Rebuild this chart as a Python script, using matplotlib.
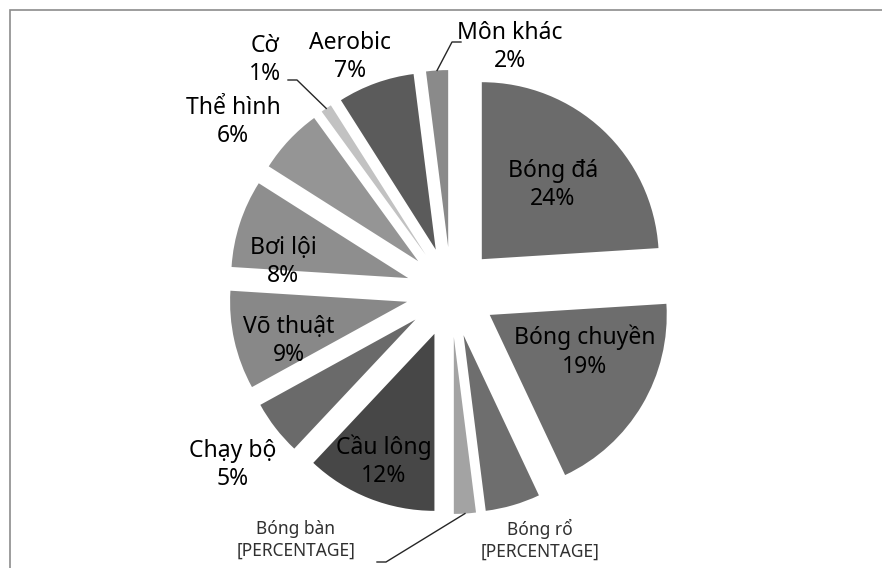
import matplotlib.pyplot as plt
import numpy as np
from matplotlib.patches import Rectangle

# du lieu
mon = ["Bóng đá", "Bóng chuyền", "Bóng rổ", "Bóng bàn", "Cầu lông", "Chạy bộ",
       "Võ thuật", "Bơi lội", "Thể hình", "Cờ", "Aerobic", "Môn khác"]
ty_le = [24, 19, 5, 2, 12, 5, 9, 8, 6, 1, 7, 2]
nhan = ["Bóng đá\n24%", "Bóng chuyền\n19%", "Bóng rổ\n[PERCENTAGE]", "Bóng bàn\n[PERCENTAGE]",
        "Cầu lông\n12%", "Chạy bộ\n5%", "Võ thuật\n9%", "Bơi lội\n8%", "Thể hình\n6%",
        "Cờ\n1%", "Aerobic\n7%", "Môn khác\n2%"]
mau = ["#6b6b6b", "#6d6d6d", "#6e6e6e", "#a3a3a3", "#474747", "#6a6a6a",
       "#888888", "#8e8e8e", "#959595", "#c2c2c2", "#5b5b5b", "#8a8a8a"]

W, H = 882, 568
fig = plt.figure(figsize=(W / 100, H / 100), dpi=100)
ax = fig.add_axes([0, 0, 1, 1])

R = 177
tam = (451, 276)
# explode tinh theo don vi toa do (pixel)
wedges, _ = ax.pie(ty_le, colors=mau, radius=R, center=tam, startangle=90, counterclock=False,
                   explode=[45] * len(ty_le), wedgeprops=dict(linewidth=0), frame=True)
ax.set_xlim(0, W)
ax.set_ylim(0, H)
ax.set_aspect("equal")
ax.axis("off")

# khung bieu do
ax.add_patch(Rectangle((10, -20), W + 20, H - 10 + 20, fill=False, edgecolor="#8c8c8c", lw=1.2))

# vi tri nhan (toa do pixel, goc tren ben trai)
vi_tri = [(553, 185), (585, 352), (540, 540), (296, 540), (384, 461), (233, 465),
          (289, 341), (283, 262), (233, 122), (265, 60), (350, 57), (510, 47)]
nho = {"Bóng rổ", "Bóng bàn"}
for i, (x, y) in enumerate(vi_tri):
    if mon[i] in nho:
        ax.text(x, H - y, nhan[i], ha="center", va="center", fontsize=12.5, color="#303030",
                family="Noto Sans", linespacing=1.25)
    else:
        ax.text(x, H - y, nhan[i], ha="center", va="center", fontsize=16.5, color="black",
                family="Noto Sans", linespacing=1.25)


def diem_ngoai(w):
    goc = np.deg2rad((w.theta1 + w.theta2) / 2)
    return w.center[0] + w.r * np.cos(goc), w.center[1] + w.r * np.sin(goc)


# duong dan
dan = {"Cờ": [(288, 80), (297, 80)], "Môn khác": [(461, 42), (452, 42)],
       "Bóng bàn": [(377, 562), (386, 562)]}
for ten, pts in dan.items():
    w = wedges[mon.index(ten)]
    ex, ey = diem_ngoai(w)
    xs = [p[0] for p in pts] + [ex]
    ys = [H - p[1] for p in pts] + [ey]
    ax.plot(xs, ys, color="#262626", lw=1)

fig.savefig("out.png", dpi=100)
